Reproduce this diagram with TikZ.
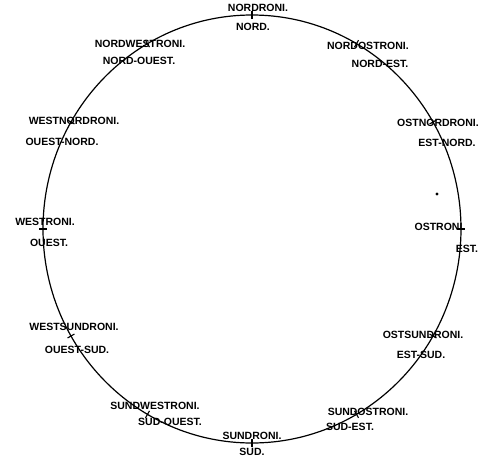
\documentclass[tikz,border=0pt]{standalone}
\usepackage{fontspec}
\setmainfont{Liberation Sans}
\begin{document}
\begin{tikzpicture}[x=1pt,y=-1pt,
  lab/.style={font=\fontsize{10.5}{12}\selectfont\bfseries, inner sep=0pt, anchor=center},
  ring/.style={line width=1.2pt},
  tickmark/.style={line width=1.1pt},
  speck/.style={fill=black}]
\useasboundingbox (0,0) rectangle (480,458);
\coordinate (c) at (252,229);
\draw[ring] (c) ellipse [x radius=209pt, y radius=214pt];
\foreach \a in {0,30,...,330} {
  \coordinate (t\a a) at ({252+205*cos(\a)},{229-210*sin(\a)});
  \coordinate (t\a b) at ({252+213*cos(\a)},{229-218*sin(\a)});
  \draw[tickmark] (t\a a) -- (t\a b);
}
% North
\node[lab] (n1) at (258,8) {NORDRONI.};
\node[lab] (n2) at (253,27) {NORD.};
% North-west
\node[lab] (nw1) at (140,44) {NORDWESTRONI.};
\node[lab] (nw2) at (139,61) {NORD-OUEST.};
% North-east
\node[lab] (ne1) at (368,46) {NORDOSTRONI.};
\node[lab] (ne2) at (380,64) {NORD-EST.};
% West-north-west
\node[lab] (wnw1) at (74,121) {WESTNORDRONI.};
\node[lab] (wnw2) at (62,142) {OUEST-NORD.};
% East-north-east
\node[lab] (ene1) at (438,123) {OSTNORDRONI.};
\node[lab] (ene2) at (447,143) {EST-NORD.};
% West
\node[lab] (w1) at (45,222) {WESTRONI.};
\node[lab] (w2) at (49,243) {OUEST.};
% East
\node[lab] (e1) at (440,227) {OSTRONI.};
\node[lab] (e2) at (467,249) {EST.};
% West-south-west
\node[lab] (wsw1) at (74,327) {WESTSUNDRONI.};
\node[lab] (wsw2) at (77,350) {OUEST-SUD.};
% East-south-east
\node[lab] (ese1) at (423,335) {OSTSUNDRONI.};
\node[lab] (ese2) at (421,355) {EST-SUD.};
% South-west
\node[lab] (sw1) at (155,406) {SUNDWESTRONI.};
\node[lab] (sw2) at (170,422) {SUD-OUEST.};
% South-east
\node[lab] (se1) at (368,412) {SUNDOSTRONI.};
\node[lab] (se2) at (350,427) {SUD-EST.};
% South
\node[lab] (s1) at (252,436) {SUNDRONI.};
\node[lab] (s2) at (252,452) {SUD.};
% speck
\fill[speck] (437,194) circle [radius=1.6pt];
\end{tikzpicture}
\end{document}
